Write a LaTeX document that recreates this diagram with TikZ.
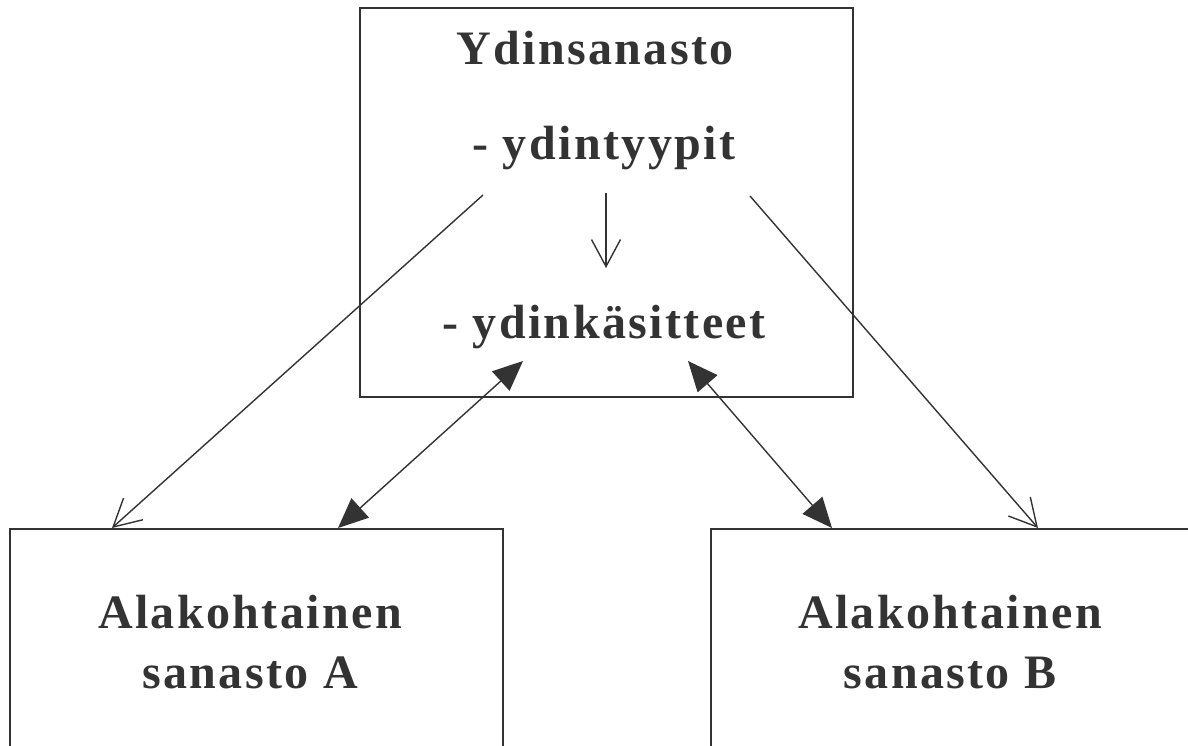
\documentclass[tikz,border=0pt]{standalone}
\usepackage{fontspec}
\setmainfont{Liberation Serif}[LetterSpace=5.0]
\usepackage{tikz}
\usetikzlibrary{arrows.meta,positioning}
\usepackage{xcolor}
\definecolor{ink}{HTML}{333333}

\begin{document}
\begin{tikzpicture}[
  x=1pt, y=-1pt,
  frame/.style={draw=ink, line width=1.8pt, anchor=north west, inner sep=0pt},
  lbl/.style={text=ink, align=center, anchor=base, inner sep=0pt, font=\fontsize{48}{60}\selectfont\bfseries},
  opn/.style={draw=ink, line width=1.4pt, -{Straight Barb[length=27pt,width=29pt]}},
  dbl/.style={draw=ink, line width=1.4pt, {Triangle[length=30pt,width=26pt]}-{Triangle[length=30pt,width=26pt]}}
]
\useasboundingbox (0,0) rectangle (1188,746);
\clip (0,0) rectangle (1188,746);

% boxes
\node[frame, minimum width=493pt, minimum height=389pt] (core) at (359,7) {};
\node[frame, minimum width=493pt, minimum height=280pt] (subA) at (9,528) {};
\node[frame, minimum width=520pt, minimum height=280pt] (subB) at (710,528) {};

% texts
\node[lbl] (title) at (595,65) {Ydinsanasto};
\node[lbl] (types) at (604,160) {- ydintyypit};
\node[lbl] (concepts) at (604,338) {- ydinkäsitteet};
\node[lbl] (labA) at (250,688) {Alakohtainen\\sanasto A};
\node[lbl] (labB) at (950,688) {Alakohtainen\\sanasto B};

% arrow ends
\coordinate (t0) at (606,193);
\coordinate (t1) at (606,268);
\coordinate (l0) at (483,195);
\coordinate (l1) at (112,528);
\coordinate (r0) at (750,196);
\coordinate (r1) at (1038,528);
\coordinate (a0) at (523,361);
\coordinate (a1) at (338,528);
\coordinate (b0) at (688,361);
\coordinate (b1) at (832,528);

\draw[opn] (t0) -- (t1);
\draw[opn] (l0) -- (l1);
\draw[opn] (r0) -- (r1);
\draw[dbl] (a0) -- (a1);
\draw[dbl] (b0) -- (b1);

\end{tikzpicture}
\end{document}
